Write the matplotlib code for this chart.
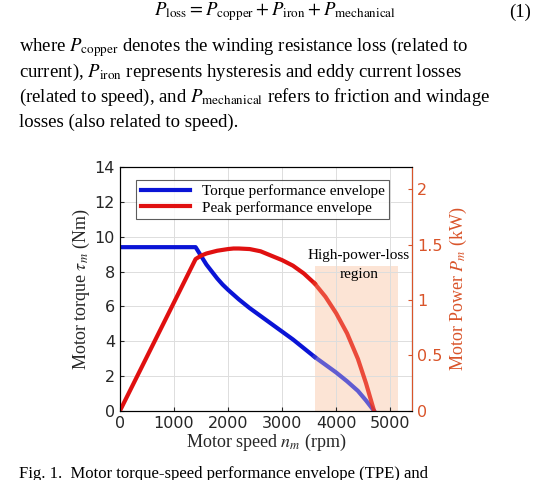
import matplotlib
matplotlib.use("Agg")
import matplotlib.pyplot as plt
import numpy as np

plt.rcParams['font.family'] = ['Liberation Serif', 'DejaVu Serif']
plt.rcParams['mathtext.fontset'] = 'stix'

speed_t = [0, 1400, 1500, 1600, 1700, 1800, 1900, 2000, 2200, 2400, 2600, 2800, 3000,
           3200, 3400, 3600, 3800, 4000, 4200, 4400, 4550, 4700]
torque = [9.4, 9.4, 8.9, 8.4, 8.0, 7.6, 7.25, 6.95, 6.4, 5.9, 5.45, 5.0, 4.55,
          4.1, 3.6, 3.1, 2.65, 2.2, 1.7, 1.15, 0.6, 0.0]
speed_p = [0, 1400, 1500, 1600, 1800, 2000, 2100, 2200, 2400, 2600, 2800, 3000, 3200,
           3400, 3600, 3800, 4000, 4200, 4400, 4550, 4700]
power = [0.0, 1.37, 1.40, 1.42, 1.445, 1.46, 1.465, 1.465, 1.46, 1.44, 1.40, 1.36, 1.31,
         1.24, 1.15, 1.03, 0.88, 0.70, 0.47, 0.25, 0.0]
region = (3600, 5150, 8.3)

fig = plt.figure(figsize=(5.5, 4.8), dpi=100)
ax = fig.add_axes([0.218, 0.144, 0.531, 0.508])
ax2 = ax.twinx()

ax.axvspan(region[0], region[1], ymin=0, ymax=region[2]/14, color='#fbd9c4', alpha=0.7, lw=0)

st = np.array(speed_t); tq = np.array(torque)
ax.plot(st[st <= 3600], tq[st <= 3600], color='#0a14d6', lw=3, solid_joinstyle='round')
ax.plot(st[st >= 3600], tq[st >= 3600], color='#3a3ad0', lw=3, alpha=0.8, solid_joinstyle='round')
sp = np.array(speed_p); pw = np.array(power)
ax2.plot(sp[sp <= 3600], pw[sp <= 3600], color='#e01010', lw=3, solid_joinstyle='round')
ax2.plot(sp[sp >= 3600], pw[sp >= 3600], color='#e83020', lw=3, alpha=0.85, solid_joinstyle='round')

ax.plot([], [], color='#0a14d6', lw=3, label='Torque performance envelope')
ax.plot([], [], color='#e01010', lw=3, label='Peak performance envelope')
leg = ax.legend(loc='upper left', bbox_to_anchor=(0.03, 0.98), fontsize=11, fancybox=False,
                edgecolor='#333333', handlelength=3.2, borderpad=0.3, labelspacing=0.2)
leg.get_frame().set_linewidth(0.8)

ax.text(4420, 8.9, 'High-power-loss', ha='center', va='center', fontsize=11)
ax.text(4420, 7.85, 'region', ha='center', va='center', fontsize=11)

ax.set_xlim(0, 5400); ax.set_ylim(0, 14)
ax2.set_ylim(0, 2.2)
ax.set_xticks([0, 1000, 2000, 3000, 4000, 5000])
ax.set_yticks(range(0, 15, 2))
ax2.set_yticks([0, 0.5, 1, 1.5, 2])
ax2.set_yticklabels(['0', '0.5', '1', '1.5', '2'])
ax.grid(True, color='#dddddd', lw=0.7)
for a in (ax, ax2):
    a.tick_params(labelsize=11.5, direction='in', length=3)
    for lab in a.get_xticklabels() + a.get_yticklabels():
        lab.set_family('DejaVu Sans')
orange = '#d9542a'
ax2.tick_params(axis='y', colors=orange)
ax2.spines['right'].set_color(orange)
ax.tick_params(colors='#262626')
ax.set_xlabel(r'Motor speed $n_m$ (rpm)', fontsize=13, color='#262626', labelpad=1)
ax.set_ylabel(r'Motor torque $\tau_m$ (Nm)', fontsize=13, color='#262626', labelpad=2)
ax2.set_ylabel(r'Motor Power $P_m$ (kW)', fontsize=13, color=orange, labelpad=4)

fs = 13.5
fig.text(0.5, 0.975, r'$P_{\rm loss} = P_{\rm copper} + P_{\rm iron} + P_{\rm mechanical}$',
         ha='center', va='center', fontsize=fs)
fig.text(0.965, 0.975, '(1)', ha='right', va='center', fontsize=fs)
lines = [r'where $P_{\rm copper}$ denotes the winding resistance loss (related to',
         r'current), $P_{\rm iron}$ represents hysteresis and eddy current losses',
         r'(related to speed), and $P_{\rm mechanical}$ refers to friction and windage',
         'losses (also related to speed).']
for i, l in enumerate(lines):
    fig.text(0.035, 0.902 - i*0.052, l, ha='left', va='center', fontsize=fs)
fig.text(0.035, 0.012, 'Fig. 1.  Motor torque-speed performance envelope (TPE) and',
         ha='left', va='center', fontsize=12)

fig.savefig('out.png', dpi=100)
